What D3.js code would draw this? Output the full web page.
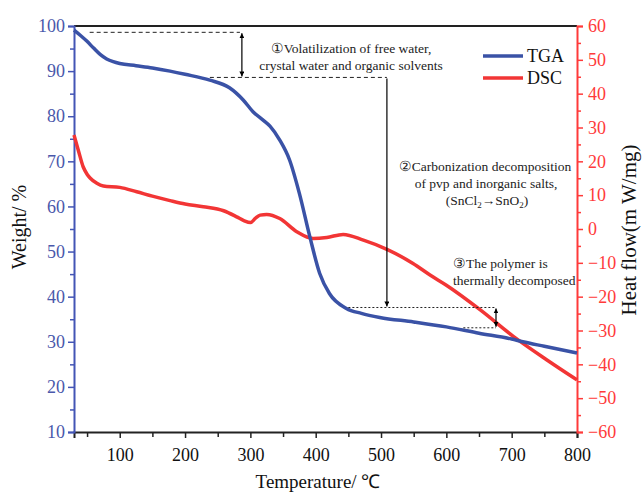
<!DOCTYPE html>
<html>
<head>
<meta charset="utf-8">
<script src="https://cdn.jsdelivr.net/npm/d3@7"></script>
<style>
  body { margin: 0; background: #fff; }
  text { font-family: "Liberation Serif", "Times New Roman", serif; }
</style>
</head>
<body>
<div id="visHolder"></div>
<script>
// TGA curve (weight %, left axis)
const tgaTemp = [30, 40, 50, 60, 70, 80, 90, 100, 125, 150, 177, 200, 238, 268, 289, 304, 319, 330, 345, 360, 375, 391, 406, 421, 447, 470, 498, 550, 600, 650, 700, 717, 750, 800];
const tgaWeight = [99.1, 97.9, 96.6, 95.1, 93.7, 92.7, 92.1, 91.7, 91.2, 90.7, 90.0, 89.3, 88.0, 86.3, 83.6, 81.0, 79.2, 77.8, 74.7, 70.3, 62.9, 53.3, 45.2, 40.7, 37.4, 36.3, 35.4, 34.4, 33.3, 31.9, 30.6, 30.0, 29.0, 27.5];

// DSC curve (heat flow, right axis)
const dscTemp = [30, 37, 44, 50, 55, 65, 75, 100, 126, 150, 177, 200, 228, 259, 279, 290, 300, 308, 315, 325, 345, 371, 396, 417, 442, 473, 509, 549, 575, 600, 652, 703, 754, 800];
const dscHeat = [27.8, 23.0, 18.4, 16.2, 15.0, 13.5, 12.7, 12.3, 11.0, 9.7, 8.4, 7.4, 6.6, 5.4, 3.6, 2.5, 1.9, 3.2, 4.1, 4.3, 3.1, -0.8, -2.8, -2.5, -1.6, -3.3, -6.0, -10.2, -13.6, -16.6, -23.9, -31.8, -38.7, -44.6];

const xTicks = [100, 200, 300, 400, 500, 600, 700, 800];
const weightTicks = [10, 20, 30, 40, 50, 60, 70, 80, 90, 100];
const heatTicks = [-60, -50, -40, -30, -20, -10, 0, 10, 20, 30, 40, 50, 60];

// annotation guides in data units [temp, weight]
const dashLines = [
    [[54, 98.6], [284, 98.6]],
    [[238, 88.6], [509, 88.6]],
    [[450, 37.6], [676, 37.6]],
    [[626, 33.1], [676, 33.1]]
];
const arrows = [
    [[287, 98.6], [287, 88.6], true],
    [[509, 88.6], [509, 37.6], false],
    [[676, 37.6], [676, 33.1], true]
];

let width = 642;
let height = 494;
const blue = "#3a52a6";
const blueAxis = "#4355b5";
const red = "#f23535";
const redAxis = "#ff3a3a";

let svg = d3.select("#visHolder")
    .append("svg")
    .attr("width", width)
    .attr("height", height);

svg.append("rect").attr("width", width).attr("height", height).attr("fill", "#fff");

let xScale = d3.scaleLinear().domain([30, 800]).range([74, 577]);
let yLeft = d3.scaleLinear().domain([10, 100]).range([432, 26]);
let yRight = d3.scaleLinear().domain([-60, 60]).range([432, 26]);

let defs = svg.append("defs");
defs.append("marker")
    .attr("id", "head")
    .attr("viewBox", "0 0 10 10")
    .attr("refX", 10).attr("refY", 5)
    .attr("markerWidth", 5).attr("markerHeight", 5)
    .attr("markerUnits", "userSpaceOnUse")
    .attr("orient", "auto-start-reverse")
    .append("path")
    .attr("d", "M0,0 L10,5 L0,10 z")
    .attr("fill", "#000");

// top frame line
svg.append("line")
    .attr("x1", 74).attr("x2", 577)
    .attr("y1", 26).attr("y2", 26)
    .attr("stroke", "#222").attr("stroke-width", 2);

// x axis
let xAxis = d3.axisBottom(xScale).tickValues(xTicks).tickSize(6).tickPadding(10).tickFormat(d => d);
let gx = svg.append("g").attr("transform", "translate(0,432)").call(xAxis);
gx.select(".domain").attr("stroke", "#222").attr("stroke-width", 2);
gx.selectAll(".tick line").attr("stroke", "#222").attr("stroke-width", 1.5);
gx.selectAll("text").attr("font-size", 18).attr("fill", "#111");
svg.append("g").attr("transform", "translate(0,432)")
    .call(d3.axisBottom(xScale).tickValues(d3.range(50, 800, 100)).tickSize(5).tickFormat(""))
    .call(g => g.select(".domain").remove())
    .selectAll("line").attr("stroke", "#222").attr("stroke-width", 1.5);

// left axis
let gl = svg.append("g").attr("transform", "translate(74,0)")
    .call(d3.axisLeft(yLeft).tickValues(weightTicks).tickSize(6).tickPadding(3));
gl.select(".domain").attr("stroke", blueAxis).attr("stroke-width", 2);
gl.selectAll(".tick line").attr("stroke", blueAxis).attr("stroke-width", 1.5);
gl.selectAll("text").attr("font-size", 18).attr("fill", "#4a58ab");
svg.append("g").attr("transform", "translate(74,0)")
    .call(d3.axisLeft(yLeft).tickValues(d3.range(15, 100, 10)).tickSize(4).tickFormat(""))
    .call(g => g.select(".domain").remove())
    .selectAll("line").attr("stroke", blueAxis).attr("stroke-width", 1.5);

// right axis
let gr = svg.append("g").attr("transform", "translate(577,0)")
    .call(d3.axisRight(yRight).tickValues(heatTicks).tickSize(6).tickPadding(5));
gr.select(".domain").attr("stroke", redAxis).attr("stroke-width", 2);
gr.selectAll(".tick line").attr("stroke", redAxis).attr("stroke-width", 1.5);
gr.selectAll("text").attr("font-size", 18).attr("fill", redAxis);
svg.append("g").attr("transform", "translate(577,0)")
    .call(d3.axisRight(yRight).tickValues(d3.range(-55, 60, 10)).tickSize(4).tickFormat(""))
    .call(g => g.select(".domain").remove())
    .selectAll("line").attr("stroke", redAxis).attr("stroke-width", 1.5);

// axis titles
svg.append("text")
    .attr("transform", "translate(26,227) rotate(-90)")
    .attr("text-anchor", "middle")
    .attr("font-size", 20)
    .attr("fill", "#111")
    .text("Weight/ %");
svg.append("text")
    .attr("transform", "translate(636,230) rotate(-90)")
    .attr("text-anchor", "middle")
    .attr("font-size", 21)
    .attr("fill", "#111")
    .text("Heat flow(m W/mg)");
svg.append("text")
    .attr("x", 318).attr("y", 488)
    .attr("text-anchor", "middle")
    .attr("font-size", 19)
    .attr("fill", "#111")
    .text("Temperature/ \u2103");

// curves
let tgaData = tgaTemp.map((t, i) => ({ t: t, v: tgaWeight[i] }));
let dscData = dscTemp.map((t, i) => ({ t: t, v: dscHeat[i] }));

svg.append("path")
    .datum(dscData)
    .attr("fill", "none")
    .attr("stroke", red)
    .attr("stroke-width", 3.5)
    .attr("d", d3.line().x(d => xScale(d.t)).y(d => yRight(d.v)).curve(d3.curveMonotoneX));

svg.append("path")
    .datum(tgaData)
    .attr("fill", "none")
    .attr("stroke", blue)
    .attr("stroke-width", 3.5)
    .attr("d", d3.line().x(d => xScale(d.t)).y(d => yLeft(d.v)).curve(d3.curveMonotoneX));

// dashed guides
svg.selectAll(".guide")
    .data(dashLines)
    .enter()
    .append("line")
    .attr("class", "guide")
    .attr("x1", d => xScale(d[0][0])).attr("y1", d => yLeft(d[0][1]))
    .attr("x2", d => xScale(d[1][0])).attr("y2", d => yLeft(d[1][1]))
    .attr("stroke", "#222")
    .attr("stroke-width", 1)
    .attr("stroke-dasharray", (d, i) => i < 2 ? "4,3" : "2,2");

// arrows
svg.selectAll(".arrow")
    .data(arrows)
    .enter()
    .append("line")
    .attr("class", "arrow")
    .attr("x1", d => xScale(d[0][0])).attr("y1", d => yLeft(d[0][1]) + 1)
    .attr("x2", d => xScale(d[1][0])).attr("y2", d => yLeft(d[1][1]) - 1)
    .attr("stroke", "#000")
    .attr("stroke-width", 1.2)
    .attr("marker-end", "url(#head)")
    .attr("marker-start", d => d[2] ? "url(#head)" : null);

// annotation texts
let notes = svg.append("g").attr("font-size", 13.5).attr("fill", "#222");
notes.append("text").attr("x", 351).attr("y", 53).attr("text-anchor", "middle").text("\u2460Volatilization of free water,");
notes.append("text").attr("x", 351).attr("y", 70).attr("text-anchor", "middle").text("crystal water and organic solvents");
notes.append("text").attr("x", 485).attr("y", 171).attr("text-anchor", "middle").text("\u2461Carbonization decomposition");
notes.append("text").attr("x", 486).attr("y", 188).attr("text-anchor", "middle").text("of pvp and inorganic salts,");
let chem = notes.append("text").attr("x", 487).attr("y", 205).attr("text-anchor", "middle");
chem.append("tspan").text("(SnCl");
chem.append("tspan").attr("font-size", 9).attr("dy", 3).text("2");
chem.append("tspan").attr("dy", -3).text("\u2192SnO");
chem.append("tspan").attr("font-size", 9).attr("dy", 3).text("2");
chem.append("tspan").attr("dy", -3).text(")");
notes.append("text").attr("x", 453).attr("y", 268).text("\u2462The polymer is");
notes.append("text").attr("x", 453).attr("y", 285).text("thermally decomposed");

// legend
let legend = svg.append("g");
let legendItems = [["TGA", blue], ["DSC", red]];
legendItems.forEach((item, i) => {
    legend.append("line")
        .attr("x1", 483).attr("x2", 523)
        .attr("y1", 56 + i * 22).attr("y2", 56 + i * 22)
        .attr("stroke", item[1]).attr("stroke-width", 3.5);
    legend.append("text")
        .attr("x", 527).attr("y", 62 + i * 22)
        .attr("font-size", 18)
        .attr("fill", "#111")
        .text(item[0]);
});
</script>
</body>
</html>
